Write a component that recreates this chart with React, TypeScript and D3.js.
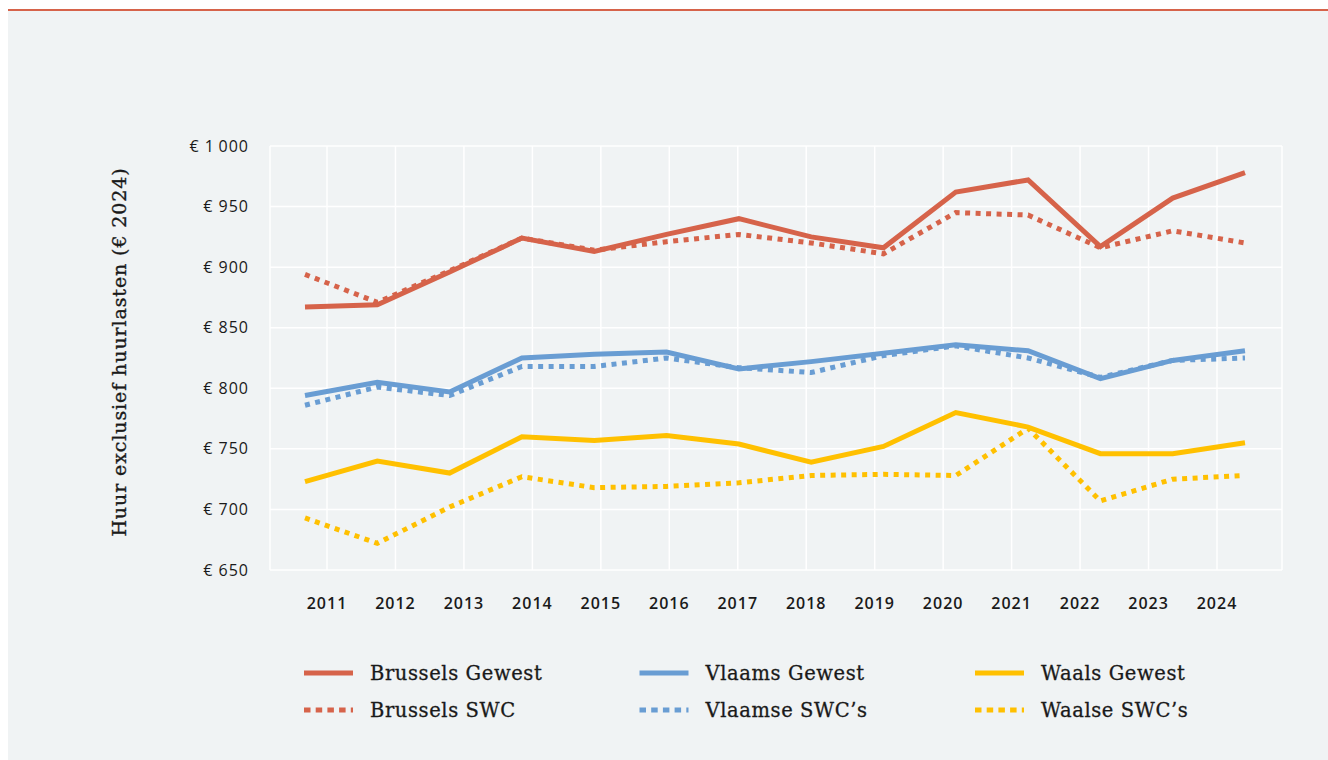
import React from "react";
import * as d3 from "d3";

const years = ["2011", "2012", "2013", "2014", "2015", "2016", "2017", "2018", "2019", "2020", "2021", "2022", "2023", "2024"];
const brusselsGewest = [867, 869, 896, 924, 913, 927, 940, 925, 916, 962, 972, 917, 957, 978];
const brusselsSWC = [894, 871, 897, 924, 914, 921, 927, 920, 911, 945, 943, 916, 930, 920];
const vlaamsGewest = [794, 805, 797, 825, 828, 830, 816, 822, 829, 836, 831, 808, 823, 831];
const vlaamseSWC = [786, 801, 794, 818, 818, 825, 817, 813, 827, 835, 825, 809, 823, 825];
const waalsGewest = [723, 740, 730, 760, 757, 761, 754, 739, 752, 780, 768, 746, 746, 755];
const waalseSWC = [693, 672, 702, 727, 718, 719, 722, 728, 729, 728, 767, 707, 725, 728];
const yTicks = [650, 700, 750, 800, 850, 900, 950, 1000];

const RED = "#d6634a";
const BLUE = "#699dd3";
const YELLOW = "#ffc000";

const series = [
  { name: "Brussels Gewest", values: brusselsGewest, color: RED, dotted: false, col: 0, row: 0 },
  { name: "Brussels SWC", values: brusselsSWC, color: RED, dotted: true, col: 0, row: 1 },
  { name: "Vlaams Gewest", values: vlaamsGewest, color: BLUE, dotted: false, col: 1, row: 0 },
  { name: "Vlaamse SWC\u2019s", values: vlaamseSWC, color: BLUE, dotted: true, col: 1, row: 1 },
  { name: "Waals Gewest", values: waalsGewest, color: YELLOW, dotted: false, col: 2, row: 0 },
  { name: "Waalse SWC\u2019s", values: waalseSWC, color: YELLOW, dotted: true, col: 2, row: 1 },
];

const locale = d3.formatLocale({ decimal: ",", thousands: "\u2009", grouping: [3], currency: ["\u20ac ", ""] });
const fmt = locale.format("$,.0f");

export default function App() {
  const W = 1328, H = 760;
  const left = 270, right = 1282, top = 146, bottom = 570;
  const y = d3.scaleLinear().domain([650, 1000]).range([bottom, top]);
  const xData = d3.scalePoint<string>().domain(years).range([305, 1245]);
  const xAxis = d3.scalePoint<string>().domain(years).range([327, 1217]);
  const legX = d3.scalePoint<number>().domain([0, 1, 2]).range([304, 975]);
  const legY = d3.scalePoint<number>().domain([0, 1]).range([673, 710]);

  const line = d3
    .line<number>()
    .x((_, i) => xData(years[i]) as number)
    .y((d) => y(d));

  const sans = "'Open Sans', sans-serif";
  const serif = "'DejaVu Serif', serif";
  const dash = "5 5.5";
  const ink = "#1a1a1a";

  return (
    <svg width={W} height={H} style={{ position: "absolute", left: 0, top: 0, display: "block" }}>
      <rect x={0} y={0} width={W} height={H} fill="#ffffff" />
      <rect x={8} y={11} width={W - 8} height={H - 11} fill="#f0f3f4" />
      <rect x={8} y={9} width={W - 8} height={2} fill={RED} />

      {/* grid */}
      {yTicks.map((t) => (
        <line key={"gy" + t} x1={left} x2={right} y1={y(t)} y2={y(t)} stroke="#ffffff" strokeWidth={1.5} />
      ))}
      {years.map((yr) => (
        <line key={"gx" + yr} x1={xAxis(yr)} x2={xAxis(yr)} y1={top} y2={bottom} stroke="#ffffff" strokeWidth={1.5} />
      ))}
      <line x1={left} x2={left} y1={top} y2={bottom} stroke="#ffffff" strokeWidth={1.5} />
      <line x1={right} x2={right} y1={top} y2={bottom} stroke="#ffffff" strokeWidth={1.5} />

      {/* y tick labels */}
      {yTicks.map((t) => (
        <text key={"ty" + t} x={249} y={y(t) + 5.5} textAnchor="end" fontFamily={sans} fontSize={16} fontWeight={500} letterSpacing={1} fill={ink}>
          {fmt(t)}
        </text>
      ))}
      {/* x tick labels */}
      {years.map((yr) => (
        <text key={"tx" + yr} x={xAxis(yr)} y={609} textAnchor="middle" fontFamily={sans} fontSize={16} fontWeight={600} letterSpacing={1} fill={ink}>
          {yr}
        </text>
      ))}

      {/* y axis title */}
      <text
        transform={`translate(126,${(167 + 537) / 2}) rotate(-90)`}
        textAnchor="middle"
        fontFamily={serif}
        fontSize={19}
        letterSpacing={0.9}
        fill={ink}
        stroke={ink}
        strokeWidth={0.35}
      >
        Huur exclusief huurlasten (€ 2024)
      </text>

      {/* lines */}
      {series.map((s) => (
        <path
          key={s.name}
          d={line(s.values) as string}
          fill="none"
          stroke={s.color}
          strokeWidth={5}
          strokeDasharray={s.dotted ? dash : undefined}
          strokeLinejoin="miter"
        />
      ))}

      {/* legend */}
      {series.map((s) => {
        const lx = legX(s.col) as number;
        const ly = legY(s.row) as number;
        return (
          <g key={"leg" + s.name}>
            <line x1={lx} x2={lx + 49} y1={ly} y2={ly} stroke={s.color} strokeWidth={5} strokeDasharray={s.dotted ? "6.5 5.2" : undefined} />
            <text x={lx + 66} y={ly + 7} fontFamily={serif} fontSize={19.5} letterSpacing={0.6} fill={ink} stroke={ink} strokeWidth={0.3}>
              {s.name}
            </text>
          </g>
        );
      })}
    </svg>
  );
}
